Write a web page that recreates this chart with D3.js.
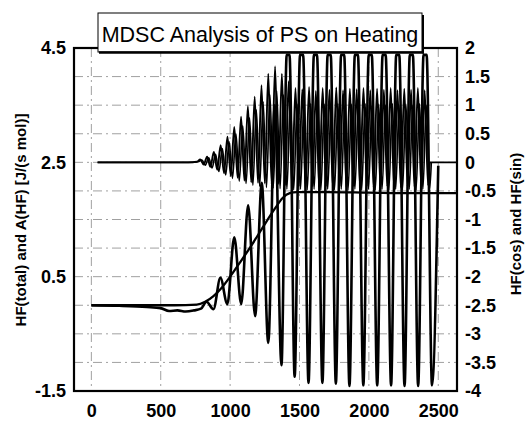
<!DOCTYPE html>
<html><head><meta charset="utf-8">
<script src="https://cdn.jsdelivr.net/npm/d3@7"></script>
<style>
body{margin:0;background:#fff;}
svg{display:block;}
.tk text{font-family:"Liberation Sans",Arial,sans-serif;font-weight:bold;font-size:18px;fill:#000;}
</style></head>
<body>
<svg id="c" width="526" height="421"></svg>
<script>
// ---- data ----
const xTicks = [0, 500, 1000, 1500, 2000, 2500];
const leftTicks = [-1.5, 0.5, 2.5, 4.5];
const rightTicks = [-4, -3.5, -3, -2.5, -2, -1.5, -1, -0.5, 0, 0.5, 1, 1.5, 2];
const titleText = "MDSC Analysis of PS on Heating";
const leftTitle = "HF(total) and A(HF) [J/(s mol)]";
const rightTitle = "HF(cos) and HF(sin)";

// HF(total), left axis: [time, value] extrema
const hfTotal = [[0,0.0],[200,-0.01],[400,-0.03],[500,-0.05],[560,-0.10],[620,-0.09],[680,-0.11],[740,-0.09],[790,-0.06],
 [830,0.06],[880,-0.07],[930,0.48],[980,0.02],[1030,1.19],[1080,0.02],[1130,1.75],[1180,-0.19],[1228,2.14],[1275,-0.66],
 [1322,3.5],[1370,-1.05],[1408,4.38],[1428,4.38],[1465,-1.25],[1504,4.38],[1526,4.38],[1565,-1.36],[1604,4.38],[1626,4.38],
 [1665,-1.36],[1703,4.38],[1725,4.38],[1762,-1.37],[1800,4.38],[1822,4.38],[1860,-1.41],[1899,4.38],[1921,4.38],[1960,-1.40],
 [1999,4.38],[2021,4.38],[2060,-1.40],[2099,4.38],[2121,4.38],[2160,-1.40],[2197,4.38],[2219,4.38],[2257,-1.41],[2295,4.38],
 [2317,4.38],[2355,-1.41],[2394,4.38],[2416,4.38],[2455,-1.40],[2500,2.44]];

// A(HF), left axis
const ampHF = [[0,0.0],[300,0.0],[600,0.0],[760,0.01],[820,0.06],[880,0.16],[930,0.28],[1000,0.50],[1080,0.78],
 [1160,1.07],[1240,1.38],[1320,1.68],[1380,1.88],[1430,1.96],[1480,1.98],[1700,1.98],[2000,1.97],[2300,1.96],[2640,1.96]];

// HF(cos), right axis
const hfCos = [[45,0.0],[400,0.0],[700,0.0],[760,0.01],
 [785,0.05],[810,-0.04],[834,0.10],[858,-0.08],[883,0.18],[907,-0.13],[932,0.30],[956,-0.19],[981,0.45],[1005,-0.24],
 [1030,0.62],[1054,-0.27],[1079,0.80],[1103,-0.32],[1128,0.98],[1152,-0.35],[1177,1.15],[1201,-0.36],[1226,1.35],[1250,-0.37],
 [1275,1.55],[1299,-0.38],[1324,1.68],[1348,-0.38],[1373,1.55],[1397,-0.40],[1422,1.42],[1446,-0.42],[1471,1.30],[1495,-0.42],
 [1520,1.28],[1544,-0.43],[1569,1.32],[1593,-0.42],[1618,1.25],[1642,-0.44],[1667,1.30],[1691,-0.42],[1716,1.27],[1740,-0.43],
 [1765,1.31],[1789,-0.42],[1814,1.26],[1838,-0.44],[1863,1.29],[1887,-0.42],[1912,1.28],[1936,-0.43],[1961,1.30],[1985,-0.42],
 [2010,1.26],[2034,-0.44],[2059,1.29],[2083,-0.43],[2108,1.27],[2132,-0.42],[2157,1.30],[2181,-0.43],[2206,1.26],[2230,-0.44],
 [2255,1.29],[2279,-0.42],[2304,1.27],[2328,-0.43],[2353,1.30],[2377,-0.42],[2402,1.26],[2426,-0.40],[2440,0.0],[2640,0.0]];

// HF(sin), right axis
const hfSin = [[45,0.0],[700,0.0],[770,0.01],
 [797,0.04],[821,-0.05],[846,0.08],[870,-0.10],[895,0.14],[919,-0.16],[944,0.24],[968,-0.22],[993,0.36],[1017,-0.28],
 [1042,0.50],[1066,-0.33],[1091,0.64],[1115,-0.37],[1140,0.78],[1164,-0.40],[1189,0.92],[1213,-0.42],[1238,1.06],[1262,-0.44],
 [1287,1.18],[1311,-0.45],[1336,1.25],[1360,-0.46],[1385,1.18],[1409,-0.47],[1434,1.08],[1458,-0.48],[1483,1.02],[1507,-0.47],
 [1532,1.00],[1556,-0.48],[1581,1.03],[1605,-0.47],[1630,0.99],[1654,-0.48],[1679,1.02],[1703,-0.47],[1728,1.00],[1752,-0.48],
 [1777,1.03],[1801,-0.47],[1826,0.99],[1850,-0.48],[1875,1.02],[1899,-0.47],[1924,1.00],[1948,-0.48],[1973,1.03],[1997,-0.47],
 [2022,0.99],[2046,-0.48],[2071,1.02],[2095,-0.47],[2120,1.00],[2144,-0.48],[2169,1.03],[2193,-0.47],[2218,0.99],[2242,-0.48],
 [2267,1.02],[2291,-0.47],[2316,1.00],[2340,-0.48],[2365,1.03],[2389,-0.47],[2414,1.00],[2438,-0.46],[2450,0.0]];

// ---- drawing ----
const svg = d3.select("#c");
const L = 74, R = 457, T = 48, B = 391;
const x = d3.scaleLinear().domain([-125, 2635]).range([L, R]);
const yL = d3.scaleLinear().domain([-1.5, 4.5]).range([B, T]);
const yR = d3.scaleLinear().domain([-4, 2]).range([B, T]);
const font = '"Liberation Sans",Arial,sans-serif';

svg.append("rect").attr("width",526).attr("height",421).attr("fill","#fff");

// grid
const g = svg.append("g");
g.selectAll("line.v").data(xTicks).join("line")
  .attr("x1", d => x(d)).attr("x2", d => x(d)).attr("y1", T).attr("y2", B)
  .attr("stroke", "#a0a0a0").attr("stroke-width", 1).attr("stroke-dasharray", "9,4,2,4");
g.selectAll("line.h").data(rightTicks.slice(1, -1)).join("line")
  .attr("x1", L).attr("x2", R).attr("y1", d => yR(d)).attr("y2", d => yR(d))
  .attr("stroke", "#a0a0a0").attr("stroke-width", 1).attr("stroke-dasharray", "9,4,2,4");

svg.append("clipPath").attr("id","pc").append("rect")
  .attr("x", L).attr("y", T).attr("width", R - L).attr("height", B - T);

const lineL = d3.line().x(d => x(d[0])).y(d => yL(d[1])).curve(d3.curveMonotoneX);
const lineR = d3.line().x(d => x(d[0])).y(d => yR(d[1])).curve(d3.curveMonotoneX);
const pg = svg.append("g").attr("clip-path", "url(#pc)");
pg.append("path").datum(hfSin).attr("d", lineR).attr("fill","none").attr("stroke","#000").attr("stroke-width",1.6);
pg.append("path").datum(hfCos).attr("d", lineR).attr("fill","none").attr("stroke","#000").attr("stroke-width",1.9);
pg.append("path").datum(hfTotal).attr("d", lineL).attr("fill","none").attr("stroke","#000").attr("stroke-width",2.6);
pg.append("path").datum(ampHF).attr("d", lineL).attr("fill","none").attr("stroke","#000").attr("stroke-width",2.3);

// frame
svg.append("rect").attr("x", L).attr("y", T).attr("width", R - L).attr("height", B - T)
  .attr("fill","none").attr("stroke","#000").attr("stroke-width",2.2);

// axes
const fmt = d => String(d);
const ax1 = svg.append("g").attr("class","tk").attr("transform",`translate(${L},0)`)
  .call(d3.axisLeft(yL).tickValues(leftTicks).tickSize(0).tickPadding(8).tickFormat(fmt));
const ax2 = svg.append("g").attr("class","tk").attr("transform",`translate(${R},0)`)
  .call(d3.axisRight(yR).tickValues(rightTicks).tickSize(0).tickPadding(8).tickFormat(fmt));
const ax3 = svg.append("g").attr("class","tk").attr("transform",`translate(0,${B})`)
  .call(d3.axisBottom(x).tickValues(xTicks).tickSize(0).tickPadding(13).tickFormat(fmt));
[ax1, ax2, ax3].forEach(a => { a.select(".domain").remove(); a.selectAll("text").attr("font-family", null).attr("font-size", null); });

// axis titles
svg.append("text").attr("transform","translate(20,220) rotate(-90)")
  .attr("text-anchor","middle").attr("dominant-baseline","central")
  .attr("font-family",font).attr("font-weight","bold").attr("font-size",15).text(leftTitle);
svg.append("text").attr("transform","translate(515,224) rotate(-90)")
  .attr("text-anchor","middle").attr("dominant-baseline","central")
  .attr("font-family",font).attr("font-weight","bold").attr("font-size",15).text(rightTitle);

// title box
svg.append("rect").attr("x",98).attr("y",13).attr("width",324).attr("height",39)
  .attr("fill","#fff").attr("stroke","#000").attr("stroke-width",1);
svg.append("line").attr("x1",99).attr("x2",424).attr("y1",52.5).attr("y2",52.5).attr("stroke","#000").attr("stroke-width",2.5);
svg.append("line").attr("x1",423).attr("x2",423).attr("y1",15).attr("y2",53.5).attr("stroke","#000").attr("stroke-width",2);
svg.append("text").attr("x",260).attr("y",42).attr("text-anchor","middle")
  .attr("font-family",font).attr("font-size",21.5).attr("fill","#000").text(titleText);
</script>
</body></html>
